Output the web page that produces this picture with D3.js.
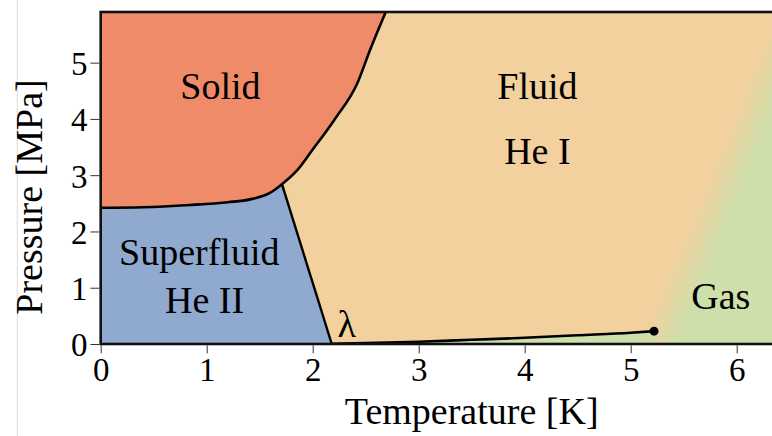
<!DOCTYPE html>
<html>
<head>
<meta charset="utf-8">
<script src="https://cdn.jsdelivr.net/npm/d3@7"></script>
<style>
  html, body { margin: 0; padding: 0; background: #fff; }
  svg { display: block; }
  text { font-family: "Liberation Serif", "Times New Roman", serif; fill: #000; }
</style>
</head>
<body>
<svg id="chart" width="772" height="436"></svg>
<script>
// Helium-4 phase diagram, temperature [K] vs pressure [MPa]
const xTicks = [0, 1, 2, 3, 4, 5, 6];
const yTicks = [0, 1, 2, 3, 4, 5];

// solid / superfluid boundary, from P(0) up to the upper lambda point
const solidLower = [[0, 2.42], [0.4, 2.43], [0.84, 2.47], [1.2, 2.52], [1.41, 2.57], [1.6, 2.69], [1.71, 2.84]];
// melting curve above the upper lambda point
const meltCurve = [[1.71, 2.84], [1.85, 3.08], [1.99, 3.43], [2.21, 4.0], [2.42, 4.63], [2.54, 5.22], [2.7, 5.95]];
// lambda line (He I / He II)
const lambdaLine = [[1.71, 2.84], [2.18, 0]];
// liquid-vapour curve up to the critical point
const vaporCurve = [[2.18, 0.003], [2.6, 0.02], [3, 0.04], [3.5, 0.075], [4, 0.11], [4.5, 0.155], [5, 0.2], [5.22, 0.228]];
const criticalPoint = [5.22, 0.228];
// fluid -> gas crossover band
const gasEdge = [[5.3, 0.2], [6.33, 4.85]];

const phaseLabels = [
  { text: "Solid", t: 1.13, p: 4.35 },
  { text: "Fluid", t: 4.12, p: 4.35 },
  { text: "He I", t: 4.12, p: 3.2 },
  { text: "Superfluid", t: 0.93, p: 1.4 },
  { text: "He II", t: 0.98, p: 0.55 },
  { text: "Gas", t: 5.85, p: 0.63 },
  { text: "λ", t: 2.32, p: 0.12 }
];

const colors = {
  solid: "#F08B6A",
  fluid: "#F2D19F",
  superfluid: "#90AACF",
  gas: "#CFDFAB"
};

const svg = d3.select("#chart");
const plotLeft = 100.7, plotTop = 12, plotBottom = 344;
const x = d3.scaleLinear().domain([0, 7]).range([plotLeft, plotLeft + 7 * 106]);
const y = d3.scaleLinear().domain([0, 5.9]).range([plotBottom, plotTop]);
const plotRight = x(7);

const defs = svg.append("defs");
defs.append("clipPath").attr("id", "plotClip")
  .append("rect").attr("x", plotLeft).attr("y", plotTop)
  .attr("width", plotRight - plotLeft).attr("height", plotBottom - plotTop);

// gradient across the fluid/gas crossover
const p1 = [x(gasEdge[0][0]), y(gasEdge[0][1])];
const p2 = [x(gasEdge[1][0]), y(gasEdge[1][1])];
const mid = [(p1[0] + p2[0]) / 2, (p1[1] + p2[1]) / 2];
const len = Math.hypot(p2[0] - p1[0], p2[1] - p1[1]);
const n = [-(p2[1] - p1[1]) / len, (p2[0] - p1[0]) / len];
const band = 36;
const grad = defs.append("linearGradient").attr("id", "gasGrad")
  .attr("gradientUnits", "userSpaceOnUse")
  .attr("x1", mid[0] - n[0] * band / 2).attr("y1", mid[1] - n[1] * band / 2)
  .attr("x2", mid[0] + n[0] * band / 2).attr("y2", mid[1] + n[1] * band / 2);
grad.append("stop").attr("offset", 0).attr("stop-color", colors.fluid);
grad.append("stop").attr("offset", 1).attr("stop-color", colors.gas);

// faint page edge line
svg.append("line").attr("x1", 17.3).attr("x2", 17.3).attr("y1", 0).attr("y2", 436)
  .attr("stroke", "#dcdcdc").attr("stroke-width", 1);

const plot = svg.append("g").attr("clip-path", "url(#plotClip)");

const curve = d3.line().x(d => x(d[0])).y(d => y(d[1])).curve(d3.curveMonotoneX);
const straight = d3.line().x(d => x(d[0])).y(d => y(d[1]));

// fluid / gas background
plot.append("rect").attr("x", plotLeft).attr("y", plotTop)
  .attr("width", plotRight - plotLeft).attr("height", plotBottom - plotTop)
  .attr("fill", "url(#gasGrad)");

// gas below the vapour curve
plot.append("path")
  .datum(vaporCurve)
  .attr("d", d3.area().x(d => x(d[0])).y0(y(0)).y1(d => y(d[1])).curve(d3.curveMonotoneX))
  .attr("fill", colors.gas);

// superfluid He II
const lowerPath = curve(solidLower);
plot.append("path")
  .attr("d", `M${x(0)},${y(0)}L${lowerPath.slice(1)}L${x(lambdaLine[1][0])},${y(lambdaLine[1][1])}Z`)
  .attr("fill", colors.superfluid);

// solid
const solidEdge = solidLower.concat(meltCurve.slice(1));
plot.append("path")
  .attr("d", `${curve(solidEdge)}L${x(0)},${y(5.95)}Z`)
  .attr("fill", colors.solid);

// phase boundaries
plot.append("path").attr("d", curve(solidEdge))
  .attr("fill", "none").attr("stroke", "#000").attr("stroke-width", 2.6).attr("stroke-linejoin", "round");
plot.append("path").attr("d", straight(lambdaLine))
  .attr("fill", "none").attr("stroke", "#000").attr("stroke-width", 2.4);
plot.append("path").attr("d", curve(vaporCurve))
  .attr("fill", "none").attr("stroke", "#000").attr("stroke-width", 2.6);
plot.append("circle")
  .attr("cx", x(criticalPoint[0])).attr("cy", y(criticalPoint[1])).attr("r", 4.5)
  .attr("fill", "#000");

// frame
svg.append("rect").attr("x", plotLeft).attr("y", plotTop)
  .attr("width", plotRight - plotLeft).attr("height", plotBottom - plotTop)
  .attr("fill", "none").attr("stroke", "#111").attr("stroke-width", 2.6);

// axes
const xAxis = svg.append("g").attr("transform", `translate(0,${plotBottom + 1.3})`)
  .call(d3.axisBottom(x).tickValues(xTicks).tickFormat(d3.format("d")).tickSize(8).tickPadding(4));
const yAxis = svg.append("g").attr("transform", `translate(${plotLeft - 1.3},0)`)
  .call(d3.axisLeft(y).tickValues(yTicks).tickFormat(d3.format("d")).tickSize(9).tickPadding(3));
[xAxis, yAxis].forEach(a => {
  a.select(".domain").remove();
  a.selectAll(".tick line").attr("stroke", "#333").attr("stroke-width", 1);
  a.selectAll(".tick text").style("font-family", '"Liberation Serif", serif')
    .style("font-size", "33px").attr("fill", "#000");
});
xAxis.selectAll(".tick text").attr("dy", "0.71em");
yAxis.selectAll(".tick text").attr("dy", "0.36em");

// axis titles
svg.append("text").attr("x", (plotLeft + plotRight) / 2).attr("y", 424)
  .attr("text-anchor", "middle").style("font-size", "38px").text("Temperature [K]");
svg.append("text").attr("transform", `translate(42,197) rotate(-90)`)
  .attr("text-anchor", "middle").style("font-size", "38px").text("Pressure [MPa]");

// phase labels
svg.append("g").selectAll("text").data(phaseLabels).join("text")
  .attr("x", d => x(d.t)).attr("y", d => y(d.p))
  .attr("text-anchor", "middle").style("font-size", "38px")
  .text(d => d.text);
</script>
</body>
</html>
